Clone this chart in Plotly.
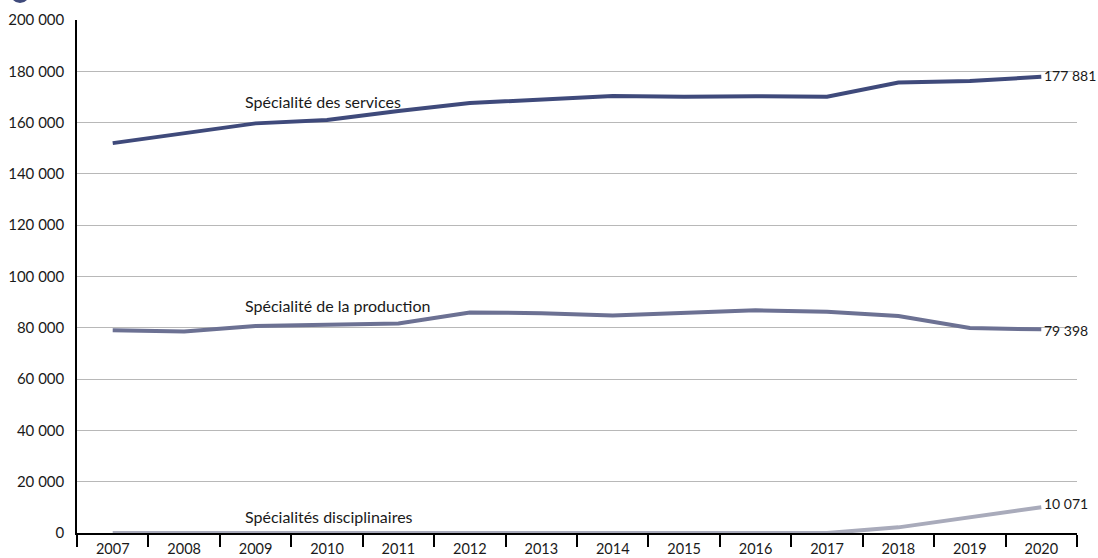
import plotly.graph_objects as go

years = [str(y) for y in range(2007, 2021)]
services = [152000, 155700, 159700, 161000, 164500, 167600, 169100, 170400, 170100, 170300, 170100, 175600, 176200, 177881]
production = [79000, 78600, 80700, 81200, 81700, 86000, 85700, 84800, 85900, 86800, 86300, 84600, 79900, 79398]
disciplinaires = [0, 0, 0, 0, 0, 0, 0, 0, 0, 0, 0, 2200, 6200, 10071]

series_names = ["Spécialité des services", "Spécialité de la production", "Spécialités disciplinaires"]
end_labels = ["177 881", "79 398", "10 071"]
y_ticks = list(range(0, 200001, 20000))
y_ticktext = [f"{v:,}".replace(",", " ") for v in y_ticks]

colors = ["#3f4a7b", "#6c7193", "#a9abbb"]
data = [services, production, disciplinaires]

fig = go.Figure()
for name, vals, col in zip(series_names, data, colors):
    fig.add_trace(go.Scatter(x=years, y=vals, mode="lines", name=name,
                             line=dict(color=col, width=4), cliponaxis=False,
                             hoverinfo="x+y"))

FONT = "Lato, 'Open Sans', sans-serif"
font_lab = dict(family=FONT, size=16, color="#1a1a1a")
font_end = dict(family=FONT, size=14, color="#1a1a1a")
# series labels
label_pos = [(0.166, 168400), (0.166, 88600), (0.166, 6300)]
for name, (px, py) in zip(series_names, label_pos):
    fig.add_annotation(x=px, xref="paper", y=py, yref="y", text=name, showarrow=False,
                       xanchor="left", yanchor="middle", font=font_lab)
# end value labels
last = len(years) - 1
shifts = [1, -1, 4]
for lab, vals, s in zip(end_labels, data, shifts):
    fig.add_annotation(x=last, xref="x", y=vals[-1], text=lab, showarrow=False, xanchor="left",
                       yanchor="middle", xshift=2, yshift=s, borderpad=0, font=font_end)

# partially visible title marker at the top-left
fig.add_shape(type="circle", xref="paper", yref="paper", x0=-0.067, x1=-0.047,
              y0=1.033, y1=1.075, fillcolor="#3f4a7b", line=dict(width=0), layer="above")

fig.update_layout(
    width=1098, height=558,
    margin=dict(l=77, r=21, t=20, b=25),
    plot_bgcolor="white", paper_bgcolor="white",
    showlegend=False,
    font=dict(family=FONT, size=15, color="#1a1a1a"),
    xaxis=dict(type="category", range=[-0.5, last + 0.5], tickson="boundaries", ticks="outside",
               ticklen=12, tickcolor="black", tickwidth=1.5, showline=True, linecolor="black",
               linewidth=1.5, showgrid=False, layer="below traces", automargin=False,
               ticklabelstandoff=2, tickfont=dict(family=FONT, size=14.5)),
    yaxis=dict(range=[0, 200000], tickvals=y_ticks, ticktext=y_ticktext, showline=True,
               linecolor="black", linewidth=1.5, showgrid=True, gridcolor="#b8b8b8", gridwidth=1,
               zeroline=False, ticks="", automargin=False, layer="below traces",
               ticklabelstandoff=8, tickfont=dict(family=FONT, size=15)),
)

fig.write_html("out.html", config={"displayModeBar": False},
               post_script="document.body.style.margin='0';document.body.style.overflow='hidden';")
